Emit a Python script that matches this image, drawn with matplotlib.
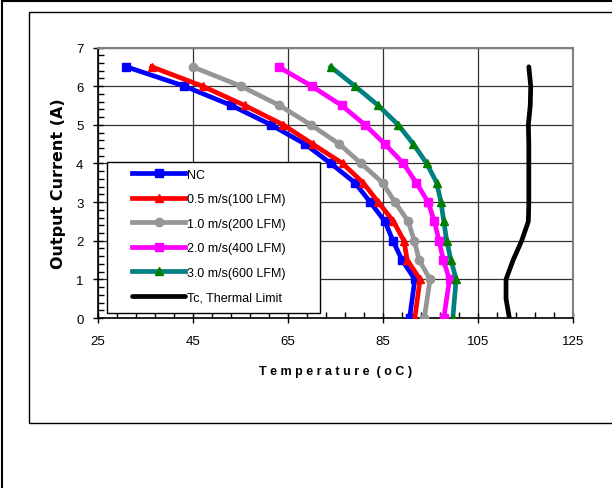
import numpy as np
import matplotlib
matplotlib.use("Agg")
import matplotlib.pyplot as plt
from matplotlib.patches import Rectangle
from matplotlib.lines import Line2D
from matplotlib.ticker import MultipleLocator

plt.rcParams['font.family'] = ['Liberation Sans', 'DejaVu Sans']

# current steps (A) for the airflow curves
current = [0, 1, 1.5, 2, 2.5, 3, 3.5, 4, 4.5, 5, 5.5, 6, 6.5]
t_nc = [90.6, 91.7, 89.0, 87.1, 85.4, 82.3, 79.1, 74.0, 68.6, 61.4, 53.1, 43.2, 31.0]
t_05 = [91.7, 92.8, 90.1, 89.4, 87.2, 84.0, 80.8, 76.5, 70.2, 64.0, 55.9, 47.0, 36.3]
t_10 = [93.7, 94.9, 92.6, 91.6, 90.3, 87.5, 84.9, 80.4, 75.8, 69.8, 63.2, 55.1, 44.9]
t_20 = [97.8, 99.0, 97.7, 96.8, 95.8, 94.5, 92.0, 89.3, 85.4, 81.2, 76.3, 70.0, 63.0]
t_30 = [99.7, 100.4, 99.3, 98.4, 97.8, 97.2, 96.3, 94.2, 91.4, 88.2, 84.0, 79.1, 74.0]

# thermal limit curve
current_tc = [0, 0.5, 1, 1.5, 2, 2.5, 3, 3.5, 4, 4.5, 5, 5.5, 6, 6.5]
t_tc = [111.6, 110.9, 110.9, 112.4, 114.2, 115.6, 115.7, 115.7, 115.7, 115.7, 115.6, 116.0, 116.1, 115.7]

labels = ["NC", "0.5 m/s(100 LFM)", "1.0 m/s(200 LFM)", "2.0 m/s(400 LFM)",
          "3.0 m/s(600 LFM)", "Tc, Thermal Limit"]

W, H = 612, 489
fig = plt.figure(figsize=(W/100, H/100), dpi=100)

# outer page border (left + top only) and chart area frame
fig.lines.append(Line2D([1.5/W, 1.5/W], [0, 1 - 1.5/H], transform=fig.transFigure, color="black", lw=1.5))
fig.lines.append(Line2D([1.5/W, 1], [1 - 1.5/H, 1 - 1.5/H], transform=fig.transFigure, color="black", lw=1.5))
fig.patches.append(Rectangle((29/W, (H-424)/H), 2, (424-13)/H, transform=fig.transFigure,
                             fill=False, edgecolor="black", linewidth=1.0))

x0, x1, y0, y1 = 98, 573, 319, 48.5
ax = fig.add_axes([x0/W, (H-y0)/H, (x1-x0)/W, (y0-y1)/H])

lw = 3.4
ax.plot(t_nc, current, color="#0000FF", lw=lw, marker="s", ms=6, label=labels[0], zorder=3)
ax.plot(t_05, current, color="#FF0000", lw=lw, marker="^", ms=6, label=labels[1], zorder=3)
ax.plot(t_10, current, color="#969696", lw=lw, marker="o", ms=6, label=labels[2], zorder=3)
ax.plot(t_20, current, color="#FF00FF", lw=lw, marker="s", ms=6, label=labels[3], zorder=3)
ax.plot(t_30, current, color="#008080", lw=lw, marker="^", ms=6, mfc="#008000", mec="#008000",
        label=labels[4], zorder=3)
ax.plot(t_tc, current_tc, color="black", lw=lw, solid_capstyle="round", label=labels[5], zorder=3)

ax.set_xlim(25, 125)
ax.set_ylim(0, 7)
ax.xaxis.set_major_locator(MultipleLocator(20, offset=5))
ax.xaxis.set_minor_locator(MultipleLocator(4, offset=1))
ax.yaxis.set_major_locator(MultipleLocator(1))
ax.yaxis.set_minor_locator(MultipleLocator(0.2))
ax.grid(True, which="major", color="#303030", linewidth=0.9)
ax.set_axisbelow(True)

for s in ["top", "right"]:
    ax.spines[s].set_color("#808080")
    ax.spines[s].set_linewidth(1.5)
for s in ["left", "bottom"]:
    ax.spines[s].set_color("black")
    ax.spines[s].set_linewidth(1.2)

ax.tick_params(which="major", direction="inout", length=7, width=1, labelsize=9.5)
ax.tick_params(axis="x", which="major", pad=9)
ax.tick_params(axis="y", which="major", pad=7)
ax.tick_params(which="minor", direction="in", length=4, width=1)

ax.set_xlabel("T e m p e r a t u r e  ( o C )", fontsize=9, fontweight="bold", labelpad=13)
ax.set_ylabel("Output Current (A)", fontsize=11.5, fontweight="bold", family="DejaVu Sans", labelpad=7)

# legend frame drawn as a box, legend entries without frame
def to_ax(px, py):
    return (px - x0) / (x1 - x0), (y0 - py) / (y0 - y1)

bx0, by0 = to_ax(107, 314)
bx1, by1 = to_ax(320, 163)
ax.add_patch(Rectangle((bx0, by0), bx1 - bx0, by1 - by0, transform=ax.transAxes,
                       facecolor="white", edgecolor="black", linewidth=1.0, zorder=4))
lx, ly = to_ax(128, 166)
leg = ax.legend(loc="upper left", bbox_to_anchor=(lx, ly), borderaxespad=0, frameon=False,
                fontsize=9, handlelength=4.3, handletextpad=0.15, labelspacing=1.0,
                borderpad=0.3)
leg.set_zorder(5)

fig.savefig("out.png", dpi=100)
